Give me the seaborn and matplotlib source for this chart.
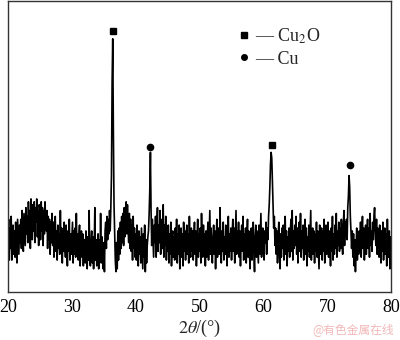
import numpy as np
import pandas as pd
import matplotlib
matplotlib.use("Agg")
import matplotlib.pyplot as plt
import seaborn as sns
from matplotlib.lines import Line2D

# XRD pattern, 2theta from 20 to 80 in steps of 0.1 deg (intensity in arbitrary units)
two_theta_start = 20.0
two_theta_step = 0.1
intensity = [
    18, 25, 11, 22, 15, 26, 11, 20, 23, 13,   # 20
    21, 12, 24, 16, 10, 25, 19, 13, 23, 17,   # 21
    25, 15, 28, 19, 14, 27, 21, 16, 29, 20,   # 22
    26, 17, 31, 20, 28, 15, 32, 23, 18, 30,   # 23
    21, 31, 17, 29, 24, 32, 19, 28, 16, 30,   # 24
    27, 18, 31, 21, 29, 16, 28, 20, 31, 23,   # 25
    21, 28, 15, 26, 18, 25, 13, 24, 17, 27,   # 26
    16, 24, 12, 22, 26, 14, 21, 11, 23, 15,   # 27
    20, 13, 28, 15, 22, 10, 21, 14, 24, 16,   # 28
    12, 23, 15, 9, 21, 14, 25, 11, 20, 13,    # 29
    19, 24, 10, 21, 13, 22, 12, 27, 14, 20,   # 30
    11, 19, 23, 9, 18, 21, 12, 20, 9, 17,     # 31
    18, 10, 21, 13, 8, 19, 11, 28, 12, 9,     # 32
    17, 21, 10, 19, 8, 16, 29, 11, 18, 9,     # 33
    13, 20, 8, 18, 11, 27, 10, 19, 14, 8,     # 34
    17, 7, 21, 24, 15, 26, 18, 25, 20, 28,    # 35
    21, 29, 40, 72, 87, 55, 30, 21, 11, 7,    # 36
    17, 8, 21, 11, 22, 13, 24, 15, 26, 17,    # 37
    27, 16, 29, 19, 26, 31, 20, 30, 22, 17,   # 38
    27, 15, 25, 14, 23, 11, 26, 15, 22, 12,   # 39
    20, 11, 23, 14, 9, 21, 13, 19, 10, 22,    # 40
    15, 8, 20, 12, 23, 7, 18, 10, 16, 19,     # 41
    21, 27, 35, 48, 28, 16, 25, 18, 12, 23,   # 42
    17, 26, 12, 22, 29, 14, 23, 17, 28, 13,   # 43
    21, 25, 15, 30, 12, 23, 16, 26, 11, 22,   # 44
    14, 23, 10, 20, 13, 24, 9, 19, 21, 12,    # 45
    19, 11, 22, 14, 25, 10, 20, 13, 23, 8,    # 46
    18, 22, 12, 20, 9, 24, 14, 21, 11, 19,    # 47
    23, 13, 20, 10, 26, 15, 12, 22, 14, 21,   # 48
    11, 19, 24, 13, 21, 9, 18, 25, 12, 20,    # 49
    14, 22, 10, 27, 17, 12, 23, 13, 20, 9,    # 50
    21, 12, 18, 24, 11, 20, 28, 13, 22, 14,   # 51
    10, 19, 23, 13, 21, 8, 18, 25, 12, 20,    # 52
    22, 13, 29, 16, 10, 21, 14, 24, 11, 19,   # 53
    13, 23, 17, 9, 21, 26, 12, 20, 14, 22,    # 54
    11, 20, 25, 14, 22, 10, 19, 28, 13, 21,   # 55
    15, 24, 12, 21, 9, 19, 23, 14, 26, 11,    # 56
    20, 13, 22, 10, 19, 25, 12, 21, 15, 8,    # 57
    17, 22, 11, 20, 24, 13, 7, 19, 23, 12,    # 58
    21, 15, 10, 23, 13, 20, 27, 12, 19, 22,   # 59
    14, 11, 21, 17, 24, 13, 22, 18, 26, 30,   # 60
    36, 44, 48, 46, 38, 30, 22, 26, 16, 22,   # 61
    13, 21, 10, 19, 24, 14, 8, 20, 12, 22,    # 62
    15, 23, 11, 20, 26, 13, 21, 9, 19, 14,    # 63
    22, 12, 20, 25, 14, 28, 11, 21, 15, 23,   # 64
    16, 26, 13, 22, 10, 20, 24, 14, 27, 12,   # 65
    21, 15, 23, 11, 20, 25, 13, 22, 9, 19,    # 66
    14, 23, 12, 20, 28, 11, 19, 22, 13, 21,   # 67
    10, 20, 14, 24, 12, 21, 15, 8, 23, 13,    # 68
    19, 22, 11, 21, 14, 25, 10, 20, 23, 13,   # 69
    15, 24, 12, 21, 17, 9, 22, 14, 26, 11,    # 70
    20, 13, 23, 15, 27, 12, 21, 16, 24, 14,   # 71
    22, 15, 25, 18, 13, 23, 28, 16, 24, 19,   # 72
    25, 18, 29, 33, 40, 36, 26, 21, 15, 21,   # 73
    12, 20, 9, 18, 7, 15, 22, 11, 19, 13,     # 74
    21, 14, 24, 12, 20, 26, 15, 22, 11, 19,   # 75
    23, 13, 20, 25, 15, 22, 12, 27, 16, 21,   # 76
    14, 24, 18, 26, 29, 21, 16, 25, 13, 22,   # 77
    20, 12, 23, 15, 10, 21, 14, 24, 11, 19,   # 78
    22, 13, 20, 9, 25, 15, 12, 21, 8, 19,     # 79
    14,                                       # 80
]

# phase markers above the peaks
cu2o_peaks = [36.4, 61.3]
cu2o_marker_y = [89.7, 50.5]
cu_peaks = [42.3, 73.5]
cu_marker_y = [49.8, 43.6]

x_ticks = [20, 30, 40, 50, 60, 70, 80]

two_theta = np.round(two_theta_start + two_theta_step * np.arange(len(intensity)), 2)
df = pd.DataFrame({"two_theta": two_theta, "intensity": intensity})

sns.set_style("white")
plt.rcParams["font.family"] = ["Liberation Serif", "DejaVu Serif"]
plt.rcParams["mathtext.fontset"] = "stix"

fig = plt.figure(figsize=(4.0, 3.4), dpi=100)
ax = fig.add_axes([0.02, 0.141, 0.958, 0.856])

sns.lineplot(data=df, x="two_theta", y="intensity", ax=ax, color="black",
             linewidth=1.2, estimator=None)
ax.plot(cu2o_peaks, cu2o_marker_y, linestyle="none", marker="s", markersize=4.5, color="black")
ax.plot(cu_peaks, cu_marker_y, linestyle="none", marker="o", markersize=4.5, color="black")

ax.set_xlim(20, 80)
ax.set_ylim(0, 100)
ax.set_xticks(x_ticks)
ax.set_xticklabels([str(t) for t in x_ticks], fontsize=13)
ax.set_yticks([])
ax.tick_params(axis="x", direction="in", length=4, width=0.8, colors="black", pad=5)
ax.set_xlabel(r"$2\theta$/(°)", fontsize=13, labelpad=1)
ax.set_ylabel("")
for s in ax.spines.values():
    s.set_color("#333333")
    s.set_linewidth(1.0)

handles = [
    Line2D([], [], linestyle="none", marker="s", markersize=4, color="black"),
    Line2D([], [], linestyle="none", marker="o", markersize=4, color="black"),
]
ax.legend(handles, ["— Cu$_2$O", "— Cu"], loc="upper left", bbox_to_anchor=(0.57, 0.955),
          frameon=False, fontsize=13, handlelength=0.6, handletextpad=0.3,
          labelspacing=0.25, borderpad=0.2)

fig.text(0.985, 0.03, "@有色金属在线", ha="right", va="center", fontsize=8.5,
         color="#f2b8b8", family=["Noto Sans CJK SC", "DejaVu Sans"])

fig.savefig("out.png", dpi=100)
